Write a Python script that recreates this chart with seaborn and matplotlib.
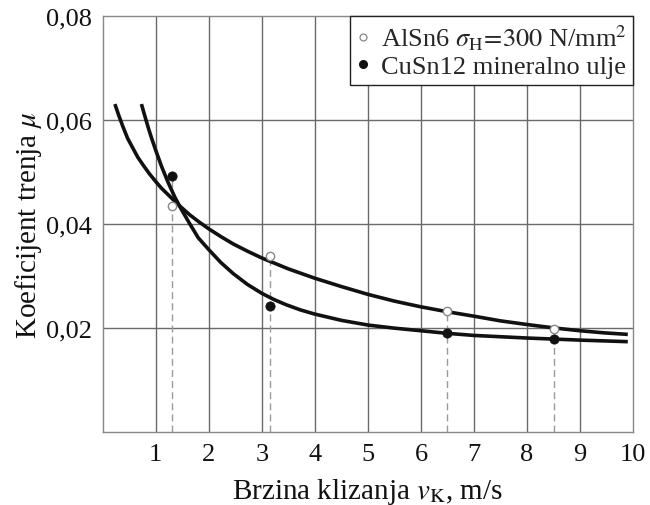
import matplotlib
matplotlib.use("Agg")
import matplotlib.pyplot as plt
import seaborn as sns
import pandas as pd
from matplotlib.lines import Line2D
from matplotlib.ticker import FixedLocator, FuncFormatter

# ---- data ----
alsn_curve_x = [0.23, 0.30, 0.38, 0.47, 0.57, 0.66, 0.76, 0.88, 1.0, 1.1, 1.2, 1.42,
                1.64, 1.82, 2.0, 2.23, 2.46, 2.73, 3.0, 3.5, 4.0, 4.5, 5.0, 5.5,
                6.0, 6.5, 7.0, 7.5, 8.0, 8.5, 9.0, 9.45, 9.9]
alsn_curve_y = [0.0631, 0.0610, 0.0588, 0.0565, 0.0546, 0.0529, 0.0514, 0.0497,
                0.0482, 0.0470, 0.0460, 0.0438, 0.0418, 0.0404, 0.0391, 0.0376,
                0.0362, 0.0348, 0.0335, 0.0314, 0.0296, 0.0280, 0.0265, 0.0252,
                0.0241, 0.02315, 0.0223, 0.0214, 0.0207, 0.02005, 0.0195, 0.0191,
                0.0188]
cusn_curve_x = [0.73, 0.82, 0.87, 0.92, 1.0, 1.11, 1.23, 1.36, 1.48, 1.64, 1.8, 2.0,
                2.23, 2.46, 2.73, 3.0, 3.23, 3.46, 3.73, 4.0, 4.5, 5.0, 5.5, 6.0,
                6.5, 7.0, 7.5, 8.0, 8.5, 9.0, 9.9]
cusn_curve_y = [0.0631, 0.0599, 0.0582, 0.0566, 0.0542, 0.0511, 0.0481, 0.0452,
                0.0429, 0.0401, 0.0374, 0.0351, 0.0326, 0.0305, 0.0284, 0.0267,
                0.0255, 0.0245, 0.0235, 0.0227, 0.0215, 0.0206, 0.0200, 0.0195,
                0.0190, 0.0186, 0.01835, 0.0181, 0.0179, 0.0177, 0.0174]

alsn_pts_x = [1.3, 3.15, 6.5, 8.5]
alsn_pts_y = [0.0434, 0.0338, 0.0233, 0.0199]
cusn_pts_x = [1.3, 3.15, 6.5, 8.5]
cusn_pts_y = [0.0492, 0.0243, 0.0190, 0.0180]

x_ticks = [1, 2, 3, 4, 5, 6, 7, 8, 9, 10]
y_ticks = [0.02, 0.04, 0.06, 0.08]

label_alsn = r'AlSn6 $\sigma_{\rm H}\!=\!300$ N/mm$^2$'
label_cusn = 'CuSn12 mineralno ulje'
x_label = r'Brzina klizanja $v_{\rm K}$, m/s'
y_label = r'Koeficijent trenja $\mu$'

# ---- styling ----
sns.set_style("white")
plt.rcParams['font.family'] = ['Liberation Serif', 'DejaVu Serif']
plt.rcParams['mathtext.fontset'] = 'stix'

fig, ax = plt.subplots(figsize=(6.5, 5.06), dpi=100)
fig.subplots_adjust(left=0.158, right=0.974, top=0.966, bottom=0.144)

ax.set_xlim(0, 10)
ax.set_ylim(0, 0.08)

# grid
for xv in x_ticks[:-1]:
    ax.axvline(xv, color='#6a6a6a', lw=1.0, zorder=0)
for yv in y_ticks[:-1]:
    ax.axhline(yv, color='#6a6a6a', lw=1.0, zorder=0)

# dashed drop lines from the highest measured point at each speed
drop_top = [max(a, c) for a, c in zip(alsn_pts_y, cusn_pts_y)]
ax.vlines(alsn_pts_x, 0, drop_top, colors='#9a9a9a', lw=1.0,
          linestyles=(0, (5, 3)), zorder=1)

df_a = pd.DataFrame({'x': alsn_curve_x, 'y': alsn_curve_y})
df_c = pd.DataFrame({'x': cusn_curve_x, 'y': cusn_curve_y})
for d in (df_a, df_c):
    sns.lineplot(data=d, x='x', y='y', ax=ax, color='#111111', lw=2.6,
                 sort=False, estimator=None, zorder=3)
for ln in ax.get_lines():
    ln.set_solid_joinstyle('round')
    ln.set_solid_capstyle('butt')

pa = pd.DataFrame({'x': alsn_pts_x, 'y': alsn_pts_y})
pc = pd.DataFrame({'x': cusn_pts_x, 'y': cusn_pts_y})
sns.scatterplot(data=pa, x='x', y='y', ax=ax, s=36, marker='o',
                facecolor='white', edgecolor='#888888', linewidth=1.0, zorder=4)
sns.scatterplot(data=pc, x='x', y='y', ax=ax, s=45, marker='o',
                color='#111111', edgecolor='#111111', linewidth=0.5, zorder=4)

# axes formatting
ax.xaxis.set_major_locator(FixedLocator(x_ticks))
ax.yaxis.set_major_locator(FixedLocator(y_ticks))
ax.yaxis.set_major_formatter(FuncFormatter(lambda v, p: f'{v:.2f}'.replace('.', ',')))
ax.tick_params(axis='both', length=0, labelsize=19, colors='#111111')
ax.tick_params(axis='x', pad=8)
ax.tick_params(axis='y', pad=8)
ax.set_xlabel(x_label, fontsize=21, color='#111111', labelpad=8)
ax.set_ylabel(y_label, fontsize=21, color='#111111', labelpad=1)
for sp in ax.spines.values():
    sp.set_color('#888888')
    sp.set_linewidth(1.0)
    sp.set_visible(True)

handles = [
    Line2D([], [], ls='none', marker='o', markersize=5, markerfacecolor='white',
           markeredgecolor='#888888', markeredgewidth=0.9),
    Line2D([], [], ls='none', marker='o', markersize=5.5, markerfacecolor='#111111',
           markeredgecolor='#111111'),
]
leg = ax.legend(handles, [label_alsn, label_cusn], loc='upper right',
                borderaxespad=0, fontsize=19, frameon=True, fancybox=False,
                framealpha=1, edgecolor='#222222', handlelength=0.5,
                handletextpad=0.4, borderpad=0.25, labelspacing=0.1)
leg.get_frame().set_linewidth(1.0)
leg.set_zorder(10)

fig.savefig('out.png', dpi=100, facecolor='white')
